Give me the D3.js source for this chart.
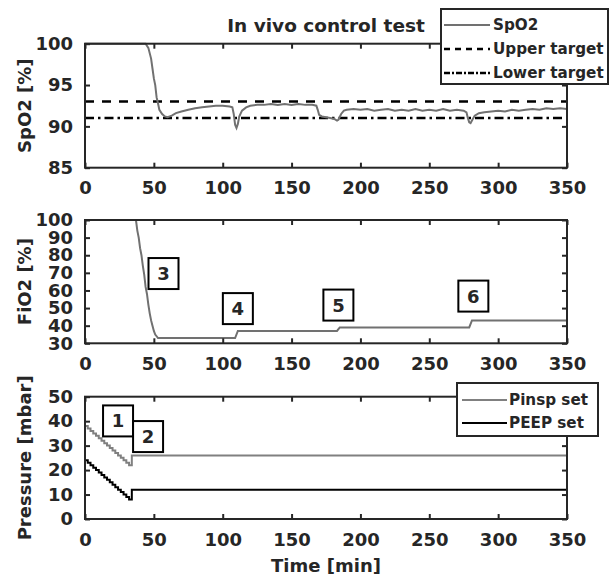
<!DOCTYPE html>
<html><head><meta charset="utf-8">
<script src="https://cdn.jsdelivr.net/npm/d3@7"></script>
<style>body{margin:0;background:#fff}svg{display:block}text{font-family:"DejaVu Sans",sans-serif;font-weight:bold;fill:#262626}</style>
</head><body>
<script>
// ---- data ----
const spo2Time = [0,44,46,48,49,50,51,52,53,54,56,58,60,63,66,70,75,80,85,90,95,100,105,107,108,109,110,111,112,114,117,120,125,130,135,140,145,150,155,160,165,168,169,170,172,175,178,181,183,184,186,188,190,195,200,205,210,215,220,225,230,235,240,245,250,255,260,265,270,275,277,278,279,280,281,283,286,290,295,300,305,310,315,320,325,330,335,340,345,350];
const spo2Vals = [100,100,99.5,98.2,97,95.8,95,93.5,92.8,92,91.5,91.2,91.1,91.3,91.6,91.8,92,92.2,92.3,92.4,92.5,92.5,92.4,92.3,91.5,90.2,89.8,90.3,91.2,91.9,92.3,92.5,92.6,92.6,92.7,92.6,92.7,92.6,92.7,92.6,92.6,92.5,92,91.4,91.2,91.1,91.0,90.9,90.7,90.8,91.5,91.9,92.0,92.1,92.0,92.1,91.9,92.0,92.1,91.9,92.0,91.9,92.1,91.9,92.0,91.9,92.1,91.9,92.0,91.9,91.7,91.0,90.5,90.4,90.7,91.3,91.6,91.7,91.8,91.9,91.8,92.0,91.9,92.0,92.1,92.0,92.2,92.1,92.2,92.1];
const upperTarget = 93;
const lowerTarget = 91;

const fio2Time = [0,37,38,39,40,41,42,43,44,45,46,47,48,49,50,51,52,53,109,111,183,185,279,281,350];
const fio2Vals = [100,100,94,90,84,80,74,69,62,58,52,47,43,40,37,35,34,33,33,37,37,39,39,43,43];

const pressTime = [0,2,4,6,8,10,12,14,16,18,20,22,24,26,28,30,32,34,350];
const pinspVals = [38,37,36,35,34,33,32,31,30,29,28,27,26,25,24,23,22,26,26];
const peepVals  = [24,23,22,21,20,19,18,17,16,15,14,13,12,11,10,9,8,12,12];

const xTicks = [0,50,100,150,200,250,300,350];
const spo2Ticks = [85,90,95,100];
const fio2Ticks = [30,40,50,60,70,80,90,100];
const pressTicks = [0,10,20,30,40,50];

const annotations = [
  {panel:1, label:"3", t:57, v:69.6},
  {panel:1, label:"4", t:111, v:49.7},
  {panel:1, label:"5", t:184, v:51.7},
  {panel:1, label:"6", t:282, v:56.8},
  {panel:2, label:"1", t:24, v:40.1},
  {panel:2, label:"2", t:45.8, v:33.7}
];

// ---- layout ----
const W = 610, H = 585;
const left = 85, right = 567;
const panels = [
  {top:43.7, bottom:167.7, domain:[85,100], ticks:spo2Ticks, title:"SpO2 [%]"},
  {top:220, bottom:343.3, domain:[30,100], ticks:fio2Ticks, title:"FiO2 [%]"},
  {top:396.7, bottom:519, domain:[0,50], ticks:pressTicks, title:"Pressure [mbar]"}
];
const axisColor = "#262626";
const svg = d3.select("body").append("svg").attr("width",W).attr("height",H);
const x = d3.scaleLinear().domain([0,350]).range([left,right]);

panels.forEach((p,i)=>{
  p.y = d3.scaleLinear().domain(p.domain).range([p.bottom,p.top]);
  const g = svg.append("g").attr("class","panel"+i);
  p.g = g;
  p.clipId = "clip"+i;
  svg.append("clipPath").attr("id",p.clipId).append("rect")
    .attr("x",left).attr("y",p.top-2).attr("width",right-left).attr("height",p.bottom-p.top+4);
});

function drawAxes(p){
  const g = p.g;
  const xb = g.append("g").attr("transform",`translate(0,${p.bottom})`)
    .call(d3.axisBottom(x).tickValues(xTicks).tickSizeInner(-5).tickSizeOuter(0).tickPadding(14));
  const xt = g.append("g").attr("transform",`translate(0,${p.top})`)
    .call(d3.axisTop(x).tickValues(xTicks).tickSizeInner(-5).tickSizeOuter(0).tickFormat(""));
  const yl = g.append("g").attr("transform",`translate(${left},0)`)
    .call(d3.axisLeft(p.y).tickValues(p.ticks).tickSizeInner(-5).tickSizeOuter(0).tickPadding(12));
  const yr = g.append("g").attr("transform",`translate(${right},0)`)
    .call(d3.axisRight(p.y).tickValues(p.ticks).tickSizeInner(-5).tickSizeOuter(0).tickFormat(""));
  [xb,xt,yl,yr].forEach(a=>{
    a.select(".domain").remove();
    a.selectAll(".tick line").attr("stroke",axisColor).attr("stroke-width",2);
    a.selectAll(".tick text").attr("font-size",18).attr("fill",axisColor)
      .style("font-family","'DejaVu Sans',sans-serif").style("font-weight","bold");
  });
  xb.selectAll(".tick text").attr("dy","0.71em");
  g.append("rect").attr("x",left).attr("y",p.top).attr("width",right-left).attr("height",p.bottom-p.top)
    .attr("fill","none").attr("stroke",axisColor).attr("stroke-width",2);
  const cy = (p.top+p.bottom)/2;
  g.append("text").attr("transform",`translate(25,${cy}) rotate(-90)`)
    .attr("text-anchor","middle").attr("dy","0.35em").attr("font-size",18).text(p.title);
}

// Panel 0: SpO2
{
  const p = panels[0];
  const cg = p.g.append("g").attr("clip-path",`url(#${p.clipId})`);
  cg.append("line").attr("x1",left).attr("x2",right).attr("y1",p.y(upperTarget)).attr("y2",p.y(upperTarget))
    .attr("stroke","#000").attr("stroke-width",2.5).attr("stroke-dasharray","9,8");
  cg.append("line").attr("x1",left).attr("x2",right).attr("y1",p.y(lowerTarget)).attr("y2",p.y(lowerTarget))
    .attr("stroke","#000").attr("stroke-width",2.5).attr("stroke-dasharray","9,4,2.5,4");
  const line = d3.line().x((d,i)=>x(spo2Time[i])).y(d=>p.y(d));
  cg.append("path").attr("d",line(spo2Vals)).attr("fill","none").attr("stroke","#717171").attr("stroke-width",2);
  drawAxes(p);
  svg.append("text").attr("x",(left+right)/2).attr("y",32).attr("text-anchor","middle").attr("font-size",18.5)
    .attr("fill","#000").text("In vivo control test");
  const lg = svg.append("g");
  lg.append("rect").attr("x",441).attr("y",9).attr("width",167).attr("height",75)
    .attr("fill","#fff").attr("stroke",axisColor).attr("stroke-width",2);
  const items = [
    {label:"SpO2", stroke:"#717171", dash:null, w:2},
    {label:"Upper target", stroke:"#000", dash:"6,5", w:2.5},
    {label:"Lower target", stroke:"#000", dash:"6,2,2,2", w:2.5}
  ];
  items.forEach((it,k)=>{
    const yy = 25 + k*24;
    lg.append("line").attr("x1",444).attr("x2",490).attr("y1",yy).attr("y2",yy)
      .attr("stroke",it.stroke).attr("stroke-width",it.w).attr("stroke-dasharray",it.dash);
    lg.append("text").attr("x",493).attr("y",yy).attr("dy","0.36em").attr("font-size",15.2)
      .attr("fill","#000").text(it.label);
  });
}

// Panel 1: FiO2
{
  const p = panels[1];
  const cg = p.g.append("g").attr("clip-path",`url(#${p.clipId})`);
  const line = d3.line().x((d,i)=>x(fio2Time[i])).y(d=>p.y(d));
  cg.append("path").attr("d",line(fio2Vals)).attr("fill","none").attr("stroke","#717171").attr("stroke-width",2);
  drawAxes(p);
}

// Panel 2: Pressure
{
  const p = panels[2];
  const cg = p.g.append("g").attr("clip-path",`url(#${p.clipId})`);
  const line = d3.line().x((d,i)=>x(pressTime[i])).y(d=>p.y(d)).curve(d3.curveStepAfter);
  cg.append("path").attr("d",line(pinspVals)).attr("fill","none").attr("stroke","#808080").attr("stroke-width",2);
  cg.append("path").attr("d",line(peepVals)).attr("fill","none").attr("stroke","#000").attr("stroke-width",2);
  drawAxes(p);
  svg.append("text").attr("x",(left+right)/2).attr("y",572).attr("text-anchor","middle").attr("font-size",18)
    .text("Time [min]");
  const lg = svg.append("g");
  lg.append("rect").attr("x",457).attr("y",383).attr("width",141).attr("height",53)
    .attr("fill","#fff").attr("stroke",axisColor).attr("stroke-width",2);
  [{label:"Pinsp set", stroke:"#808080"},{label:"PEEP set", stroke:"#000"}].forEach((it,k)=>{
    const yy = 400 + k*23;
    lg.append("line").attr("x1",462).attr("x2",507).attr("y1",yy).attr("y2",yy)
      .attr("stroke",it.stroke).attr("stroke-width",2.2);
    lg.append("text").attr("x",509).attr("y",yy).attr("dy","0.36em").attr("font-size",15.2)
      .attr("fill","#000").text(it.label);
  });
}

// annotation boxes
annotations.forEach(a=>{
  const p = panels[a.panel];
  const cx = x(a.t), cy = p.y(a.v);
  const g = svg.append("g");
  g.append("rect").attr("x",cx-15).attr("y",cy-15.5).attr("width",30).attr("height",31)
    .attr("fill","#fff").attr("stroke","#000").attr("stroke-width",2);
  g.append("text").attr("x",cx).attr("y",cy).attr("dy","0.36em").attr("text-anchor","middle")
    .attr("font-size",18).attr("fill","#000").text(a.label);
});
</script>
</body></html>
